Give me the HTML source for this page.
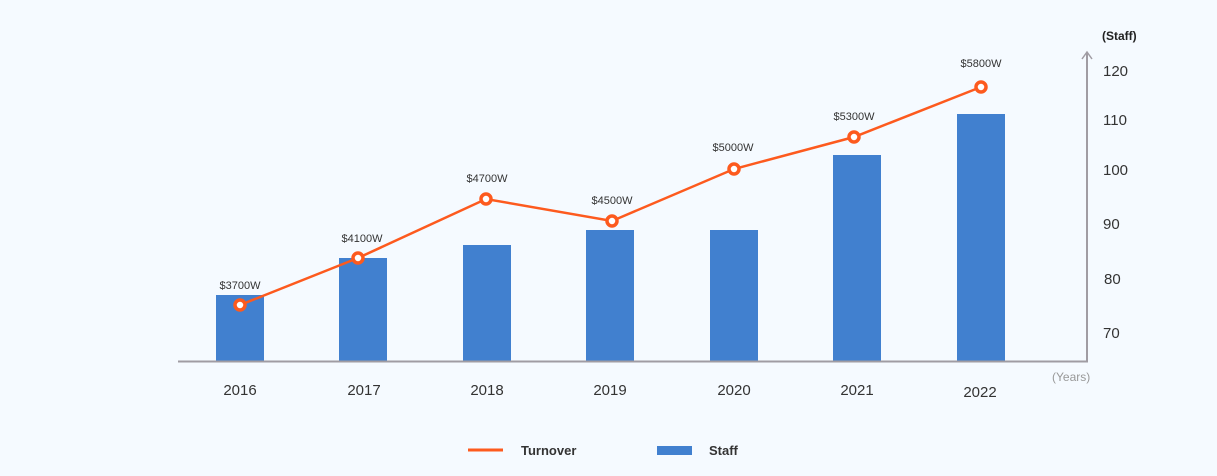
<!DOCTYPE html>
<html><head><style>
body{margin:0;background:#f5faff;}
svg{display:block;font-family:"Liberation Sans",sans-serif;}
</style></head><body>
<svg width="1217" height="476" viewBox="0 0 1217 476">
<rect width="1217" height="476" fill="#f5faff"/>
<g fill="#4180cf">
<rect x="216" y="295" width="48" height="66"/>
<rect x="339" y="258" width="48" height="103"/>
<rect x="463" y="245" width="48" height="116"/>
<rect x="586" y="230" width="48" height="131"/>
<rect x="710" y="230" width="48" height="131"/>
<rect x="833" y="155" width="48" height="206"/>
<rect x="957" y="114" width="48" height="247"/>
</g>
<line x1="178" y1="361.5" x2="1088" y2="361.5" stroke="#a09ca3" stroke-width="2"/>
<line x1="1087" y1="361" x2="1087" y2="53" stroke="#a09ca3" stroke-width="2"/>
<polyline points="1082,59 1087,52 1092,59" fill="none" stroke="#a09ca3" stroke-width="1.5"/>
<polyline points="240,305 358,258 486,199 612,221 734,169 854,137 981,87" fill="none" stroke="#fd5a1e" stroke-width="2.5"/>
<g fill="#fff" stroke="#fd5a1e" stroke-width="3.5">
<circle cx="240" cy="305" r="5"/><circle cx="358" cy="258" r="5"/><circle cx="486" cy="199" r="5"/>
<circle cx="612" cy="221" r="5"/><circle cx="734" cy="169" r="5"/><circle cx="854" cy="137" r="5"/><circle cx="981" cy="87" r="5"/>
</g>
<g font-size="11" fill="#333" text-anchor="middle">
<text x="240" y="289">$3700W</text><text x="362" y="242">$4100W</text><text x="487" y="182">$4700W</text>
<text x="612" y="204">$4500W</text><text x="733" y="151">$5000W</text><text x="854" y="120">$5300W</text><text x="981" y="67">$5800W</text>
</g>
<g font-size="15" fill="#333" text-anchor="middle">
<text x="240" y="395">2016</text><text x="364" y="395">2017</text><text x="487" y="395">2018</text>
<text x="610" y="395">2019</text><text x="734" y="395">2020</text><text x="857" y="395">2021</text><text x="980" y="397">2022</text>
</g>
<g font-size="15" fill="#333">
<text x="1103" y="76">120</text><text x="1103" y="125">110</text><text x="1103" y="175">100</text>
<text x="1103" y="229">90</text><text x="1104" y="284">80</text><text x="1103" y="338">70</text>
</g>
<text x="1102" y="40" font-size="12" font-weight="bold" fill="#222">(Staff)</text>
<text x="1052" y="381" font-size="12" fill="#999">(Years)</text>
<line x1="468" y1="450" x2="503" y2="450" stroke="#fd5a1e" stroke-width="3"/>
<text x="521" y="455" font-size="13" font-weight="bold" fill="#333">Turnover</text>
<rect x="657" y="446" width="35" height="9" fill="#4180cf"/>
<text x="709" y="455" font-size="13" font-weight="bold" fill="#333">Staff</text>
</svg>
</body></html>
